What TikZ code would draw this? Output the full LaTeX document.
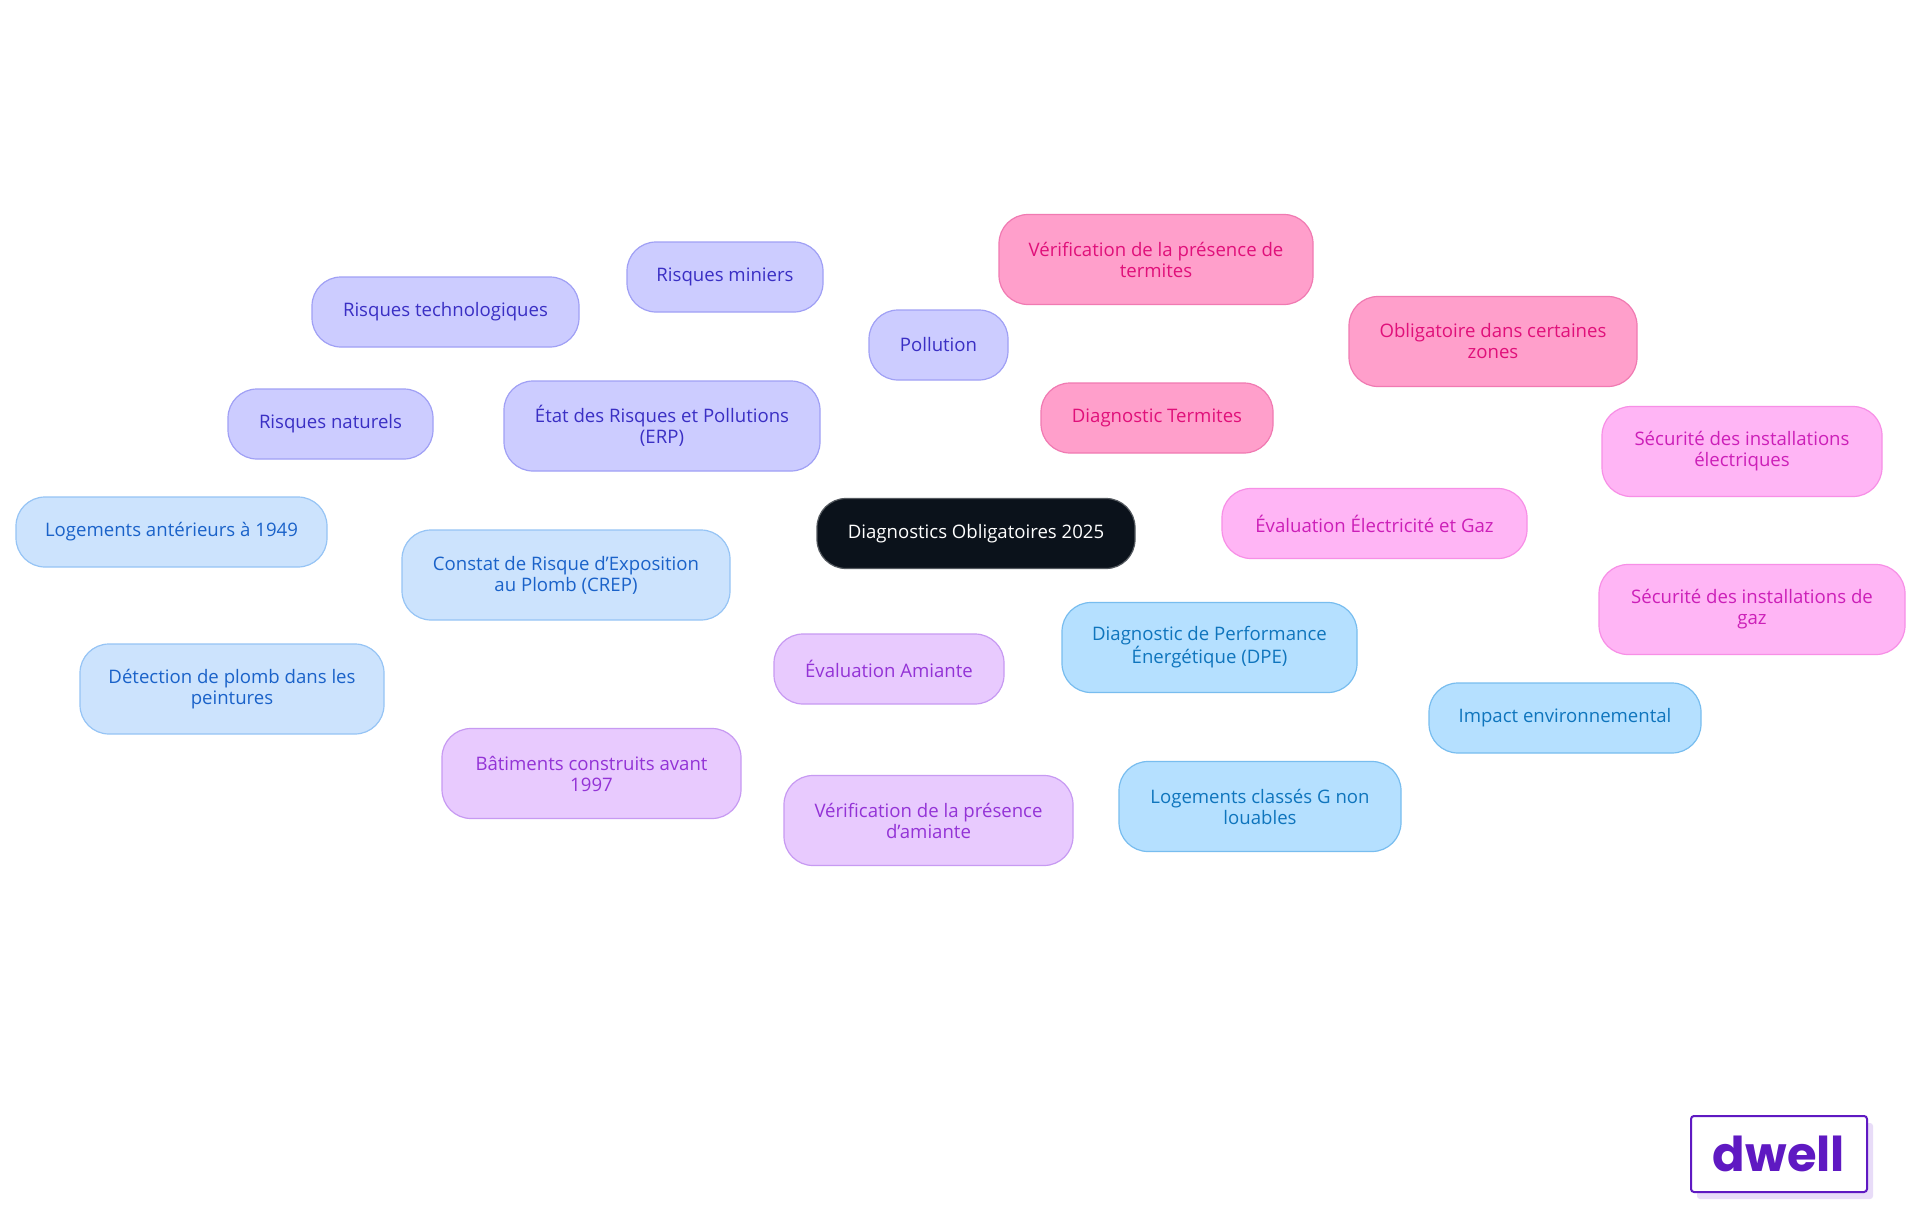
\documentclass[tikz,border=0pt]{standalone}
\usepackage{fontspec}
\setmainfont{Open Sans}
\newfontfamily\logofont{Poppins}
\usetikzlibrary{backgrounds}
\definecolor{centerfill}{HTML}{0B121B}
\definecolor{erpfill}{HTML}{CCCCFF}\definecolor{erpline}{HTML}{A0A0F5}\definecolor{erptext}{HTML}{3A2FC4}
\definecolor{crepfill}{HTML}{CCE3FD}\definecolor{crepline}{HTML}{96C4F5}\definecolor{creptext}{HTML}{1A62C9}
\definecolor{dpefill}{HTML}{B5E0FF}\definecolor{dpeline}{HTML}{78BDEF}\definecolor{dpetext}{HTML}{0F75BD}
\definecolor{amifill}{HTML}{E8CAFE}\definecolor{amiline}{HTML}{C79AF2}\definecolor{amitext}{HTML}{9333D6}
\definecolor{terfill}{HTML}{FF9FCB}\definecolor{terline}{HTML}{F07AB2}\definecolor{tertext}{HTML}{E0107A}
\definecolor{elefill}{HTML}{FFB5F5}\definecolor{eleline}{HTML}{F78FE6}\definecolor{eletext}{HTML}{CC1FB8}
\definecolor{logocol}{HTML}{5F19C2}\definecolor{logoshadow}{HTML}{E8DCF8}
\tikzset{
  x=1pt,y=-1pt,
  mm/.style={rectangle,rounded corners=29pt,inner sep=0pt,align=center,line width=1.2pt,
    font=\fontsize{18.6}{21}\selectfont},
  one/.style={mm,minimum height=70pt},
  two/.style={mm,minimum height=90pt},
  erp/.style={draw=erpline,fill=erpfill,text=erptext},
  crep/.style={draw=crepline,fill=crepfill,text=creptext},
  dpe/.style={draw=dpeline,fill=dpefill,text=dpetext},
  ami/.style={draw=amiline,fill=amifill,text=amitext},
  ter/.style={draw=terline,fill=terfill,text=tertext},
  ele/.style={draw=eleline,fill=elefill,text=eletext},
  link/.style={line width=3pt},
}
\begin{document}
\begin{tikzpicture}
\useasboundingbox[fill=white] (0,0) rectangle (1920,1215);
\node[one,draw=centerfill!70!white,fill=centerfill,text=white,minimum width=318pt] (c) at (976,533.5) {Diagnostics Obligatoires 2025};
\node[two,erp,minimum width=316pt] (erp) at (662,426) {État des Risques et Pollutions\\(ERP)};
\node[one,erp,minimum width=205pt] (rn) at (330.5,424) {Risques naturels};
\node[one,erp,minimum width=267pt] (rt) at (445.5,312) {Risques technologiques};
\node[one,erp,minimum width=196pt] (rm) at (725,277) {Risques miniers};
\node[one,erp,minimum width=139pt] (po) at (938.5,345) {Pollution};
\node[one,ter,minimum width=232pt] (te) at (1157,418) {Diagnostic Termites};
\node[two,ter,minimum width=314pt] (vt) at (1156,259.5) {Vérification de la présence de\\termites};
\node[two,ter,minimum width=288pt] (ob) at (1493,341.5) {Obligatoire dans certaines\\zones};
\node[one,ele,minimum width=305pt] (el) at (1374.5,523.5) {Évaluation Électricité et Gaz};
\node[two,ele,minimum width=280pt] (se) at (1742,451.5) {Sécurité des installations\\électriques};
\node[two,ele,minimum width=306pt] (sg) at (1752,609.5) {Sécurité des installations de\\gaz};
\node[two,dpe,minimum width=295pt] (dp) at (1209.5,647.5) {Diagnostic de Performance\\Énergétique (DPE)};
\node[one,dpe,minimum width=272pt] (im) at (1565,718) {Impact environnemental};
\node[two,dpe,minimum width=282pt] (lg) at (1260,806.5) {Logements classés G non\\louables};
\node[one,ami,minimum width=230pt] (am) at (889,669) {Évaluation Amiante};
\node[two,ami,minimum width=299pt] (ba) at (591.5,773.5) {Bâtiments construits avant\\1997};
\node[two,ami,minimum width=289pt] (va) at (928.5,820.5) {Vérification de la présence\\d'amiante};
\node[two,crep,minimum width=328pt] (cr) at (566,575) {Constat de Risque d'Exposition\\au Plomb (CREP)};
\node[one,crep,minimum width=311pt] (lo) at (171.5,532) {Logements antérieurs à 1949};
\node[two,crep,minimum width=304pt] (de) at (232,689) {Détection de plomb dans les\\peintures};
\begin{scope}[on background layer]
\fill[white] (0,0) rectangle (1920,1215);
\draw[link,erpline] (c.center)--(erp.center) (erp.center)--(rn.center) (erp.center)--(rt.center) (erp.center)--(rm.center) (erp.center)--(po.center);
\draw[link,terline] (c.center)--(te.center) (te.center)--(vt.center) (te.center)--(ob.center);
\draw[link,eleline] (c.center)--(el.center) (el.center)--(se.center) (el.center)--(sg.center);
\draw[link,dpeline] (c.center)--(dp.center) (dp.center)--(im.center) (dp.center)--(lg.center);
\draw[link,amiline] (c.center)--(am.center) (am.center)--(ba.center) (am.center)--(va.center);
\draw[link,crepline] (c.center)--(cr.center) (cr.center)--(lo.center) (cr.center)--(de.center);
\end{scope}
\fill[logoshadow,rounded corners=3pt] (1697,1123) rectangle (1873,1199);
\node[draw=logocol,fill=white,line width=2pt,rounded corners=3pt,minimum width=176pt,minimum height=76pt,inner sep=0pt,text=logocol,font=\logofont\fontsize{48}{48}\selectfont\bfseries] (logo) at (1779,1154) {dwell};
\end{tikzpicture}
\end{document}
